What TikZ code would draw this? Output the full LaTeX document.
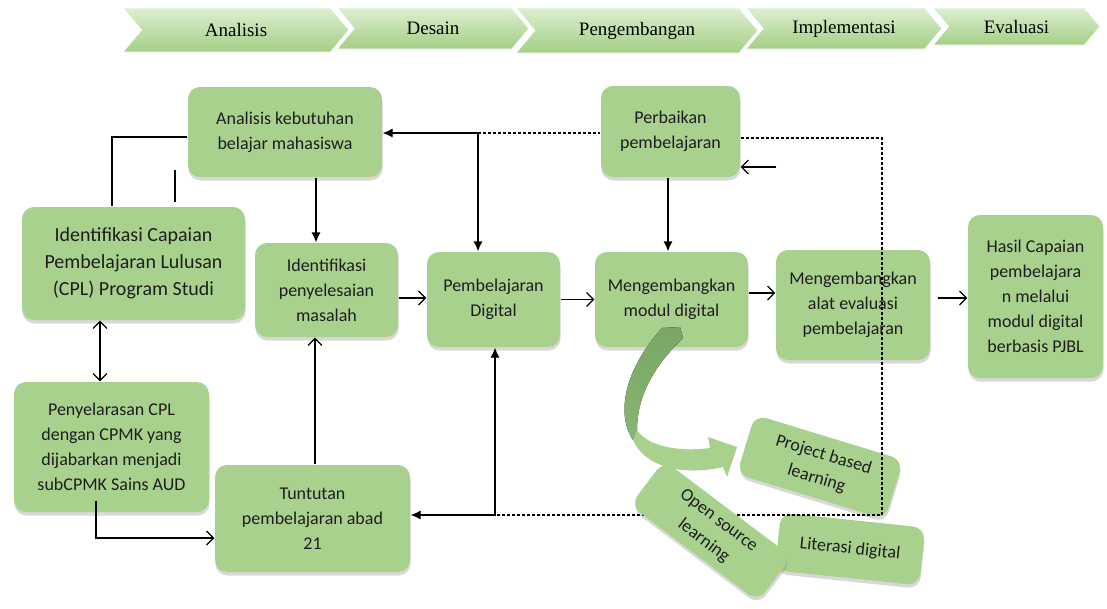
\documentclass[tikz,border=0pt]{standalone}
\usepackage{fontspec}
\setmainfont{Carlito}
\newfontfamily\chevfont{Liberation Serif}
\usepackage{tikz}
\usetikzlibrary{arrows.meta,shapes.symbols,shadows,positioning,calc}

\definecolor{boxGreen}{HTML}{A9D18E}
\definecolor{chevTop}{HTML}{DDEFD0}
\definecolor{chevBot}{HTML}{A3CF86}
\definecolor{arrDark}{HTML}{7AA765}
\definecolor{arrMid}{HTML}{88B573}
\definecolor{arrLight}{HTML}{A9D18E}
\definecolor{txtGrey}{HTML}{1E1E1E}

\begin{document}
\begin{tikzpicture}[x=1pt,y=-1pt,line width=1.2pt,
box/.style={rectangle,rounded corners=12pt,fill=boxGreen,text=txtGrey,align=center,
  inner sep=2pt,font=\fontsize{18}{25}\selectfont,
  drop shadow={shadow xshift=0.5pt,shadow yshift=-3.5pt,opacity=0.3}},
chev/.style={signal,signal to=east,signal from=west,signal pointer angle=100,
  inner sep=0pt,top color=chevTop,bottom color=chevBot,draw=white,line width=0.8pt,
  text=black,font=\chevfont\fontsize{19}{19}\selectfont},
arr/.style={-{Straight Barb[length=7pt,width=14pt]}},
darr/.style={{Straight Barb[length=7pt,width=14pt]}-{Straight Barb[length=7pt,width=14pt]}},
farr/.style={-{Latex[length=10pt,width=9pt]}},
dsh/.style={dash pattern=on 3pt off 2pt,line width=1.1pt}]
\fill[white] (0,0) rectangle (1107,608);
\useasboundingbox (0,0) rectangle (1107,608);

% phases
\node (chAna) at (236,30) [chev,minimum width=226,minimum height=44] {Analisis};
\node (chPen) at (637,30.5) [chev,minimum width=242,minimum height=45] {Pengembangan};
\node (chDes) at (433,28.5) [chev,minimum width=192,minimum height=41] {Desain};
\node (chEva) at (1016.5,26.5) [chev,minimum width=167,minimum height=37] {Evaluasi};
\node (chImp) at (844,28.5) [chev,minimum width=196,minimum height=41] {Implementasi};

% steps
\node (anKeb) at (285,132) [box,minimum width=194,minimum height=90] {Analisis kebutuhan\\belajar mahasiswa};
\node (idCPL) at (133.5,263.5) [box,minimum width=223,minimum height=113,font=\fontsize{20}{27}\selectfont] {Identifikasi Capaian\\Pembelajaran Lulusan\\(CPL) Program Studi};
\node (idMas) at (326.5,290) [box,minimum width=143,minimum height=94] {Identifikasi\\penyelesaian\\masalah};
\node (pemDig) at (493.5,299.5) [box,minimum width=133,minimum height=95] {Pembelajaran\\Digital};
\node (perb) at (670.5,131.5) [box,minimum width=139,minimum height=91] {Perbaikan\\pembelajaran};
\node (mengMod) at (671.5,299.5) [box,minimum width=153,minimum height=95] {Mengembangkan\\modul digital};
\node (alatEv) at (853,305) [box,minimum width=154,minimum height=110] {Mengembangkan\\alat evaluasi\\pembelajaran};
\node (hasil) at (1035.5,296.5) [box,minimum width=135,minimum height=163] {Hasil Capaian\\pembelajara\\n melalui\\modul digital\\berbasis PJBL};
\node (penyel) at (111.5,447) [box,minimum width=195,minimum height=130] {Penyelarasan CPL\\dengan CPMK yang\\dijabarkan menjadi\\subCPMK Sains AUD};
\node (tuntut) at (312.5,518.5) [box,minimum width=195,minimum height=107] {Tuntutan\\pembelajaran abad\\21};
\node (lit) at (850,549) [box,minimum width=145,minimum height=58,rotate=-6] {Literasi digital};
\node (proj) at (820,467) [box,minimum width=155,minimum height=62,rotate=-17] {Project based\\learning};

\coordinate (s1) at (175,170);
\coordinate (s2) at (175,202);
\coordinate (s3) at (776,167);
\coordinate (jT) at (478,133);
\coordinate (jR) at (882,515);
\coordinate (jB) at (495,515);

% links
\draw ([yshift=-5pt]anKeb.west) -| ([xshift=-21.5pt]idCPL.north);
\draw (s1) -- (s2);
\draw[farr] ([xshift=31pt]anKeb.south) -- ([xshift=-10.5pt]idMas.north);
\draw[darr] ([xshift=-33.5pt]idCPL.south) -- ([xshift=-11.5pt]penyel.north);
\draw[arr] ([xshift=-15.5pt,yshift=12pt]penyel.south) |- ([yshift=-19.5pt]tuntut.west);
\draw[arr] ([xshift=2.5pt]tuntut.north) -- ([xshift=-11.5pt]idMas.south);
\draw[arr] ([yshift=-8pt]idMas.east) -- ([yshift=1.5pt]pemDig.west);
\draw[arr] (pemDig.east) -- (mengMod.west);
\draw[arr] ([yshift=6.5pt]mengMod.east) -- ([yshift=12pt]alatEv.west);
\draw[arr] ([xshift=7pt,yshift=7pt]alatEv.east) -- ([yshift=-1.5pt]hasil.west);
\draw[farr] ([xshift=-2.5pt]perb.south) -- ([xshift=-3.5pt]mengMod.north);
\draw[arr] (s3) -- (s3 -| perb.east);

% feedback
\draw[dsh] (jT) -- (jT -| perb.west);
\draw[farr] (jT) -- (jT -| anKeb.east);
\draw[farr] (jT) -- (jT |- pemDig.north);
\draw[dsh] ([yshift=-6.5pt]perb.east) -| (jR) -- (jB);
\draw[farr] (jB) -- (jB -| tuntut.east);
\draw[farr] (jB) -- (jB |- pemDig.south);

% curved arrow, back part then front part
\fill[top color=arrDark,bottom color=arrMid] (662,328) -- (680,327) -- (683,338)
  .. controls (655,365) and (637,395) .. (637,430) -- (633,440)
  .. controls (618,418) and (620,375) .. (662,328) -- cycle;
\fill[arrLight] (633,440) -- (637,430) .. controls (648,447) and (680,452) .. (710,448)
  -- (708,437) -- (737,447) -- (727,477) -- (723,467)
  .. controls (685,476) and (645,468) .. (633,440) -- cycle;

\node (osl) at (711,531) [box,minimum width=160,minimum height=56,rotate=-37] {Open source\\learning};

\end{tikzpicture}
\end{document}
